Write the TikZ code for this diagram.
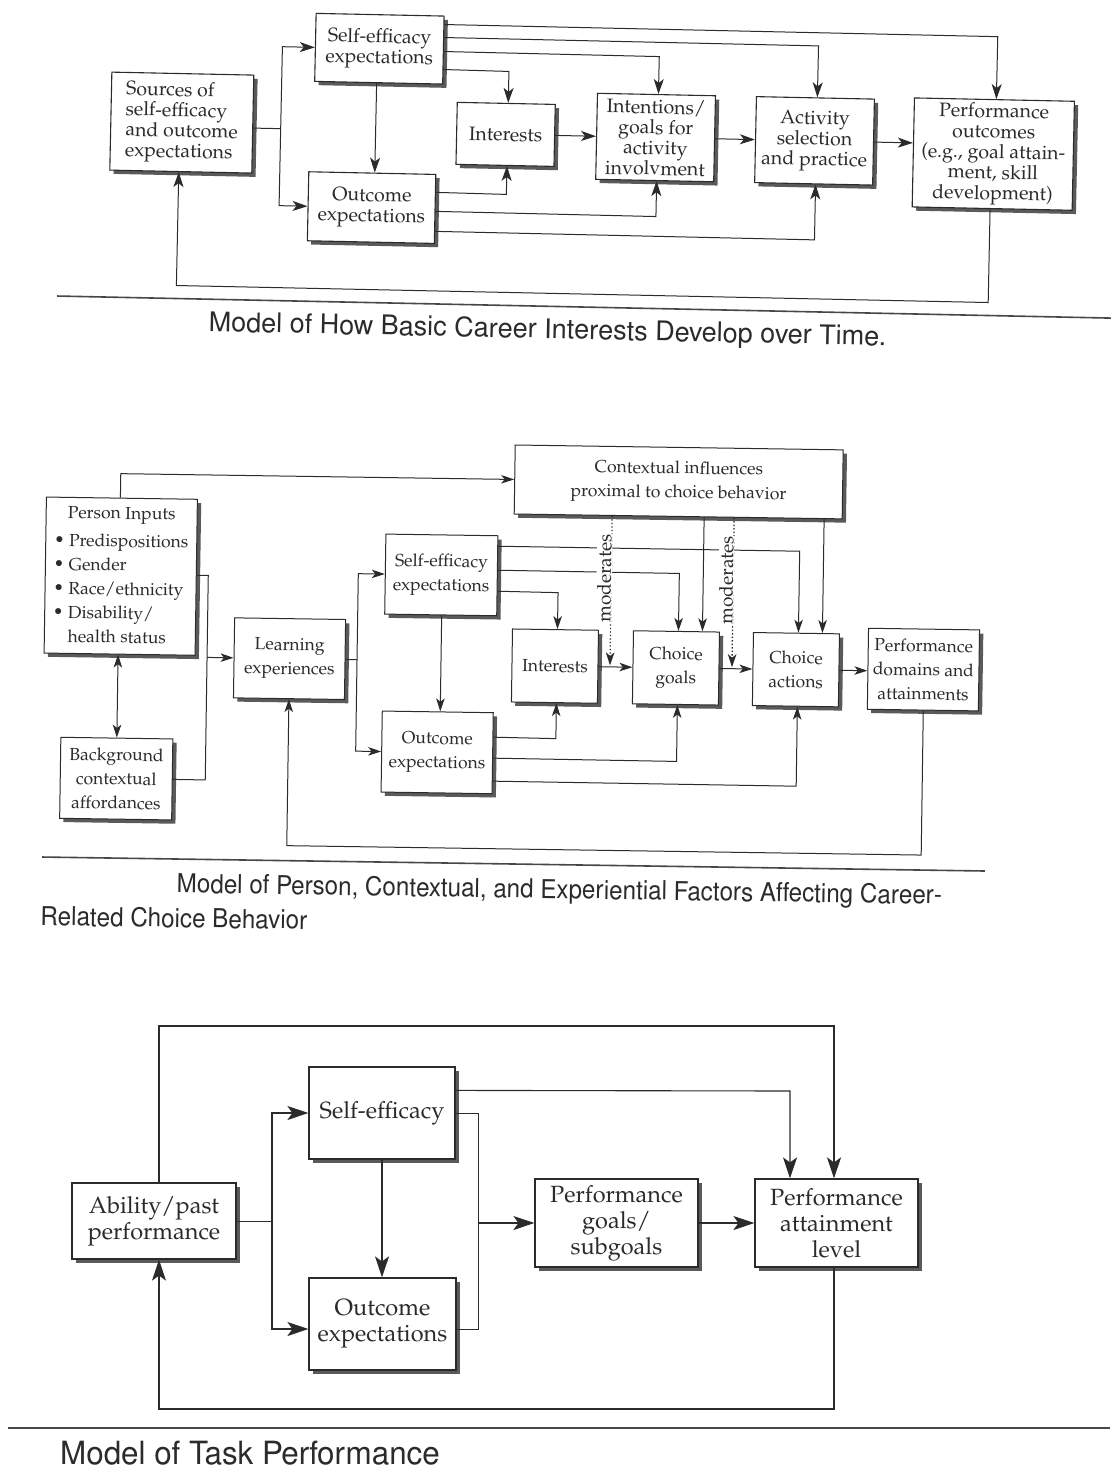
\documentclass[tikz,border=0pt]{standalone}
\usepackage[T1]{fontenc}
\usetikzlibrary{arrows.meta}
\definecolor{ink}{HTML}{2B2B2B}
\definecolor{shade}{HTML}{5A5A5A}
\definecolor{rulegray}{HTML}{474747}
\newcommand\palfont[2]{\fontfamily{ppl}\fontsize{#1}{#2}\selectfont}
\newcommand\helfont[2]{\fontfamily{phv}\fontsize{#1}{#2}\selectfont}
\tikzset{
  cbox/.style={draw=ink, line width=1.1pt, fill=white, inner sep=0pt, align=center, text=ink,
    preaction={draw=none, fill=shade, transform canvas={shift={(3.8pt,-3.8pt)}}}},
  topbox/.style={cbox, font=\palfont{19.5}{20.5}},
  midbox/.style={cbox, line width=1pt, font=\palfont{17.5}{24}},
  lowbox/.style={cbox, line width=1.2pt, font=\palfont{23.5}{26}},
  wire/.style={draw=ink, line width=1pt},
  arrT/.style={wire, -{Stealth[length=15pt,width=10pt,inset=4pt]}},
  arrM/.style={wire, -{Stealth[length=13pt,width=8.5pt,inset=3.5pt]}},
  arrD/.style={wire, {Stealth[length=13pt,width=8.5pt,inset=3.5pt]}-{Stealth[length=13pt,width=8.5pt,inset=3.5pt]}},
  arrB/.style={wire, line width=1.1pt, -{Stealth[length=21pt,width=14pt,inset=5pt]}},
  dotwire/.style={draw=ink, line width=1.3pt, dash pattern=on 1.3pt off 2.2pt,
    -{Stealth[length=13pt,width=8.5pt,inset=3.5pt]}},
  sepline/.style={draw=rulegray, line width=1.6pt},
  captext/.style={text=ink, inner sep=0pt},
  modtag/.style={fill=white, inner sep=0.6pt, text=ink, font=\palfont{19}{22}, rotate=90},
}
\begin{document}
\begin{tikzpicture}[x=1pt,y=-1pt]
\path[use as bounding box, fill=white] (0,0) rectangle (1110,1471);

% ===== Model 1: development of basic career interests =====
\begin{scope}[rotate around={-1.2:(57,160)}, transform shape]
  \node[topbox, minimum width=142pt, minimum height=98pt, align=left] (src) at (181,120)
    {Sources of\\self-efficacy\\and outcome\\expectations};
  \node[topbox, minimum width=128pt, minimum height=68pt] (se) at (377,42) {Self-efficacy\\expectations};
  \node[topbox, minimum width=127pt, minimum height=69pt] (oe) at (372.5,201) {Outcome\\expectations};
  \node[topbox, minimum width=98pt, minimum height=62pt] (int) at (505,125) {Interests};
  \node[topbox, minimum width=118pt, minimum height=86pt] (inten) at (655,125)
    {Intentions/\\goals for\\activity\\involvment};
  \node[topbox, minimum width=118pt, minimum height=86pt] (act) at (814,125)
    {Activity\\selection\\and practice};
  \node[topbox, minimum width=160pt, minimum height=109pt] (perf) at (993,134.5)
    {Performance\\outcomes\\(e.g., goal attain-\\ment, skill\\development)};

  \coordinate (srcfork) at (280,124);
  \draw[wire] ([yshift=-4pt]src.east) -- (srcfork);
  \draw[arrT] (srcfork) -- (280,42) -- (se.west);
  \draw[arrT] (srcfork) -- (280,201) -- (oe.west);
  \draw[arrT] ([xshift=-2pt]se.south) -- ([xshift=2.5pt]oe.north);

  \draw[arrT] ([yshift=-9pt]se.north east) -- (995,17) -- ([xshift=2pt]perf.north);
  \draw[arrT] ([yshift=-22pt]se.north east) -- (816,30) -- ([xshift=2pt]act.north);
  \draw[arrT] ([yshift=-36pt]se.north east) -- (657,44) -- ([xshift=2pt]inten.north);
  \draw[arrT] ([yshift=-54pt]se.north east) -- (507,62) -- ([xshift=2pt]int.north);
  \draw[arrT] ([yshift=-18.5pt]oe.north east) -- (507,185) -- ([xshift=2pt]int.south);
  \draw[arrT] ([yshift=-37.5pt]oe.north east) -- (657,204) -- ([xshift=2pt]inten.south);
  \draw[arrT] ([yshift=-57.5pt]oe.north east) -- (816,224) -- ([xshift=2pt]act.south);

  \draw[arrT] (int.east) -- (inten.west);
  \draw[arrT] (inten.east) -- (act.west);
  \draw[arrT] (act.east) -- ([yshift=9.5pt]perf.west);
  \draw[arrT] ([xshift=-2pt]perf.south) -- (991,283) -- (179,283) -- ([xshift=-2pt]src.south);

  \draw[sepline] (60,296) -- (1115,296);
  \node[captext, font=\helfont{27}{30}] (cap1) at (551,321)
    {Model of How Basic Career Interests Develop over Time.};
\end{scope}

% ===== Model 2: person, contextual and experiential factors =====
\begin{scope}[rotate around={-0.85:(42,660)}, transform shape]
  \node[midbox, minimum width=151pt, minimum height=156pt] (pin) at (119.5,575)
    {\begin{tabular}{@{}l@{}}\multicolumn{1}{@{}c@{}}{Person Inputs}\\[4pt]
      \textbullet\ Predispositions\\ \textbullet\ Gender\\ \textbullet\ Race/ethnicity\\
      \textbullet\ Disability/\\ \phantom{\textbullet\ }health status\end{tabular}};
  \node[midbox, minimum width=112pt, minimum height=81pt] (bg) at (118,777.5)
    {Background\\contextual\\affordances};
  \node[midbox, minimum width=111pt, minimum height=80pt] (learn) at (289.5,655) {Learning\\experiences};
  \node[midbox, minimum width=112pt, minimum height=80pt] (se2) at (440,569) {Self-efficacy\\expectations};
  \node[midbox, minimum width=111pt, minimum height=81pt] (oe2) at (438.5,746.5) {Outcome\\expectations};
  \node[midbox, minimum width=328pt, minimum height=69pt] (ctx) at (676,472.5)
    {Contextual influences\\proximal to choice behavior};
  \node[midbox, minimum width=86pt, minimum height=73pt] (int2) at (555,658.5) {Interests};
  \node[midbox, minimum width=86pt, minimum height=73pt] (cg) at (676,658.5) {Choice\\goals};
  \node[midbox, minimum width=86pt, minimum height=73pt] (ca) at (796,658.5) {Choice\\actions};
  \node[midbox, minimum width=111pt, minimum height=81pt] (pd) at (923.5,656.5)
    {Performance\\domains and\\attainments};

  \draw[arrM] ([xshift=-1.5pt]pin.north) -- (118,472.5) -- (ctx.west);
  \draw[wire] ([yshift=2pt]pin.east) -- (207,573) -- (207,777.5) -- (bg.east);
  \coordinate (pfork) at (207,655);
  \draw[arrM] (pfork) -- (learn.west);
  \draw[arrD] ([xshift=-1.5pt]pin.south) -- (bg.north);

  \coordinate (lfork) at (357,655);
  \draw[wire] (learn.east) -- (lfork);
  \draw[arrM] (lfork) -- (357,569) -- (se2.west);
  \draw[arrM] (lfork) -- (357,746.5) -- (oe2.west);
  \draw[arrM] ([xshift=1pt]se2.south) -- ([xshift=2.5pt]oe2.north);

  \draw[arrM] ([yshift=-11pt]se2.north east) -- (798,540) -- ([xshift=2pt]ca.north);
  \draw[arrM] ([yshift=-35pt]se2.north east) -- (678,564) -- ([xshift=2pt]cg.north);
  \draw[arrM] ([yshift=-56pt]se2.north east) -- (557,585) -- ([xshift=2pt]int2.north);
  \draw[arrM] ([yshift=-25pt]oe2.north east) -- (557,731) -- ([xshift=2pt]int2.south);
  \draw[arrM] ([yshift=-46pt]oe2.north east) -- (678,752) -- ([xshift=2pt]cg.south);
  \draw[arrM] ([yshift=-69pt]oe2.north east) -- (798,775) -- ([xshift=2pt]ca.south);

  \draw[arrM] ([xshift=26pt]ctx.south) -- ([xshift=26pt]cg.north);
  \draw[arrM] ([xshift=146pt]ctx.south) -- ([xshift=26pt]ca.north);

  \draw[arrM] (int2.east) -- (cg.west);
  \draw[arrM] (cg.east) -- (ca.west);
  \draw[arrM] (ca.east) -- ([yshift=-2pt]pd.west);
  \draw[arrM] ([xshift=0.5pt]pd.south) -- (924,842) -- (289.5,842) -- (learn.south);

  % moderating paths from the proximal context
  \draw[dotwire] ([xshift=-66pt]ctx.south) -- (610,657);
  \draw[dotwire] ([xshift=56pt]ctx.south) -- (732,657);
  \node[modtag] (mod1) at (603,570) {moderates};
  \node[modtag] (mod2) at (725,570) {moderates};

  \draw[sepline] (45,857) -- (988,857);
  \node[captext, anchor=west, font=\helfont{26}{28}, xscale=0.93] (cap2a) at (180,884)
    {Model of Person, Contextual, and Experiential Factors Affecting Career-};
  \node[captext, anchor=west, font=\helfont{26}{28}, xscale=0.93] (cap2b) at (44,916)
    {Related Choice Behavior};
\end{scope}

% ===== Model 3: task performance =====
\begin{scope}
  \node[lowbox, minimum width=164pt, minimum height=76pt] (abl) at (154,1221) {Ability/past\\performance};
  \node[lowbox, minimum width=146pt, minimum height=92pt] (se3) at (382,1113) {Self-efficacy};
  \node[lowbox, minimum width=147pt, minimum height=92pt] (oe3) at (382.5,1324) {Outcome\\expectations};
  \node[lowbox, minimum width=163pt, minimum height=88pt] (pg) at (616.5,1223) {Performance\\goals/\\subgoals};
  \node[lowbox, minimum width=163pt, minimum height=88pt] (pa) at (836.5,1223) {Performance\\attainment\\level};

  \draw[arrB] ([xshift=5pt]abl.north) -- (159,1026) -- (834,1026) -- ([xshift=-2.5pt]pa.north);
  \coordinate (afork) at (272,1221);
  \draw[wire] (abl.east) -- (afork);
  \draw[arrB] (afork) -- (272,1113) -- (se3.west);
  \draw[arrB] (afork) -- (272,1329) -- ([yshift=-5pt]oe3.west);
  \draw[arrB] (se3.south) -- ([xshift=-0.5pt]oe3.north);
  \draw[arrB] ([yshift=-24pt]se3.north east) -- (790,1091) -- ([xshift=-46.5pt]pa.north);
  \draw[wire] (se3.east) -- (478,1113) -- (478,1329) -- ([yshift=-5pt]oe3.east);
  \coordinate (gfork) at (478,1223);
  \draw[arrB] (gfork) -- (pg.west);
  \draw[arrB] (pg.east) -- (pa.west);
  \draw[arrB] ([xshift=-2.5pt]pa.south) -- (834,1409) -- (159,1409) -- ([xshift=5pt]abl.south);

  \draw[sepline] (8,1428) -- (1110,1428);
  \node[captext, anchor=west, font=\helfont{32}{35}, xscale=0.98, transform shape] (cap3) at (60,1453)
    {Model of Task Performance};
\end{scope}
\end{tikzpicture}
\end{document}
